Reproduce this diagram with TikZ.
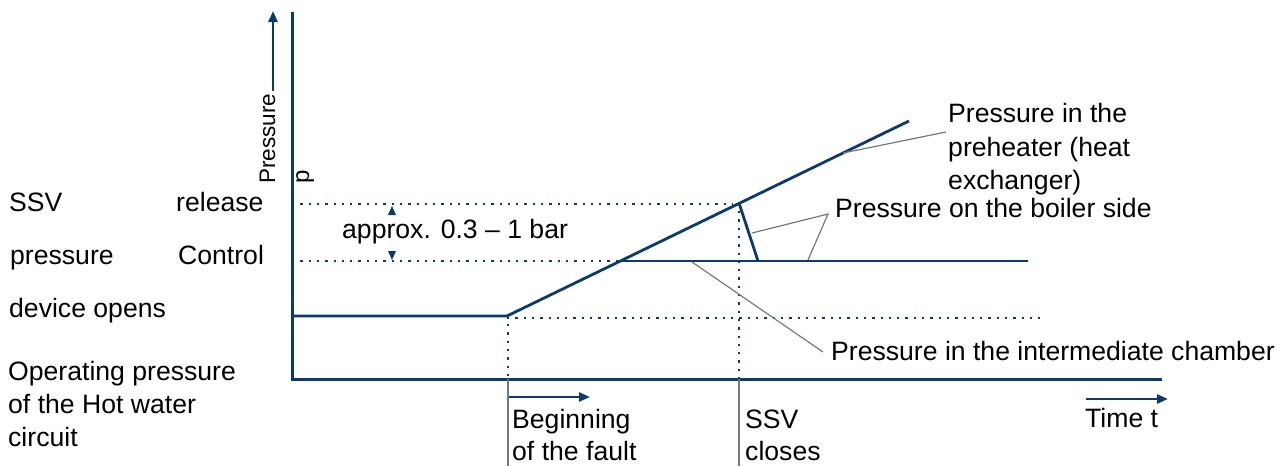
\documentclass[tikz,border=0pt]{standalone}
\usepackage{fontspec}
\setmainfont{Liberation Sans}
\usetikzlibrary{arrows.meta}
\definecolor{navy}{RGB}{10,58,110}
\definecolor{leader}{RGB}{120,120,120}
\begin{document}
\begin{tikzpicture}[x=1pt,y=-1pt,
  curve/.style={draw=navy,line width=2.8pt},
  axisline/.style={draw=navy,line width=3pt},
  dotline/.style={draw=navy,line width=2.3pt,dash pattern=on 2.3pt off 6pt},
  leadline/.style={draw=leader,line width=1.2pt},
  guide/.style={draw=leader,line width=1.2pt},
  dirarrow/.style={draw=navy,line width=2.6pt,-{Triangle[length=11pt,width=9pt]}},
  lbl/.style={anchor=base west,inner sep=0pt,font=\fontsize{26.6}{33}\selectfont,text=black},
  tick/.style={fill=navy,draw=none}]
\useasboundingbox (0,0) rectangle (1287,466);
% key coordinates
\coordinate (ytop) at (292,12);
\coordinate (origin) at (292,379);
\coordinate (xend) at (1162,379);
\coordinate (op0) at (292,316);
\coordinate (fault) at (507,316);
\coordinate (rampend) at (909,121);
\coordinate (ctrlx) at (621,261);
\coordinate (ssvtop) at (739,203);
\coordinate (ssvfoot) at (758,261);
\coordinate (boilend) at (1028,261);
\coordinate (rel0) at (292,204);
\coordinate (rel1) at (733,204);
\coordinate (ctl0) at (292,261);
\coordinate (opd1) at (1040,318);
\coordinate (opd0) at (507,318);
\coordinate (fv0) at (508,324);
\coordinate (fv1) at (508,379);
\coordinate (fv2) at (508,466);
\coordinate (sv0) at (739,211);
\coordinate (sv1) at (739,379);
\coordinate (sv2) at (739,466);
% axes
\draw[axisline] (ytop) -- (292,381);
\draw[axisline] (290.5,379) -- (xend);
% pressure arrow
\coordinate (pa0) at (273,91);
\coordinate (pa1) at (273,11);
\draw[dirarrow] (pa0) -- (pa1);
\node[anchor=base west,inner sep=0pt,rotate=90,font=\fontsize{22.5}{26}\selectfont] (plabel) at (275,184) {Pressure};
\node[anchor=base west,inner sep=0pt,rotate=90,font=\fontsize{24}{28}\selectfont] (psym) at (309,184) {p};
% dotted guides
\draw[dotline] (rel0) -- (rel1);
\draw[dotline] (ctl0) -- (ctrlx);
\draw[dotline] (opd0) -- (opd1);
\draw[dotline] (fv0) -- (fv1);
\draw[dotline] (sv0) -- (sv1);
\draw[guide] (fv1) -- (fv2);
\draw[guide] (sv1) -- (sv2);
% curves
\draw[curve] (op0) -- (fault) -- (rampend);
\draw[curve] (ssvtop) -- (ssvfoot);
\draw[curve] (ctrlx) -- (boilend);
% small range markers
\fill[tick] (392,206) -- (388,215) -- (396,215) -- cycle;
\fill[tick] (392,260) -- (388,251) -- (396,251) -- cycle;
\node[lbl] (approx) at (342,238) {approx. 0.3 – 1 bar};
% time arrows
\coordinate (fa0) at (509,397);
\coordinate (fa1) at (590,397);
\draw[dirarrow] (fa0) -- (fa1);
\coordinate (ta0) at (1086,399);
\coordinate (ta1) at (1168,399);
\draw[dirarrow] (ta0) -- (ta1);
% left labels
\node[lbl] (ssv) at (9,211) {SSV};
\node[lbl] (release) at (176,211) {release};
\node[lbl] (pressure) at (10,264) {pressure};
\node[lbl] (control) at (178,264) {Control};
\node[lbl] (device) at (9,317) {device opens};
\node[lbl] (oper1) at (8,380) {Operating pressure};
\node[lbl] (oper2) at (8,413) {of the Hot water};
\node[lbl] (oper3) at (8,446) {circuit};
% bottom labels
\node[lbl] (beg1) at (512,428) {Beginning};
\node[lbl] (beg2) at (512,460) {of the fault};
\node[lbl] (ssvc1) at (745,428) {SSV};
\node[lbl] (ssvc2) at (745,460) {closes};
\node[lbl] (time) at (1085,427) {Time t};
% right labels
\node[lbl] (pre1) at (948,122) {Pressure in the};
\node[lbl] (pre2) at (948,156) {preheater (heat};
\node[lbl] (pre3) at (948,189) {exchanger)};
\node[lbl] (boiler) at (835,217) {Pressure on the boiler side};
\node[lbl] (inter) at (831,360) {Pressure in the intermediate chamber};
% leaders
\coordinate (lp0) at (843,153);
\coordinate (lp1) at (946,132);
\draw[leadline] (lp0) -- (lp1);
\coordinate (lb0) at (752,233);
\coordinate (lb1) at (828,214);
\coordinate (lb2) at (808,260);
\draw[leadline] (lb0) -- (lb1) -- (lb2);
\coordinate (li0) at (692,262);
\coordinate (li1) at (823,352);
\draw[leadline] (li0) -- (li1);
\end{tikzpicture}
\end{document}
